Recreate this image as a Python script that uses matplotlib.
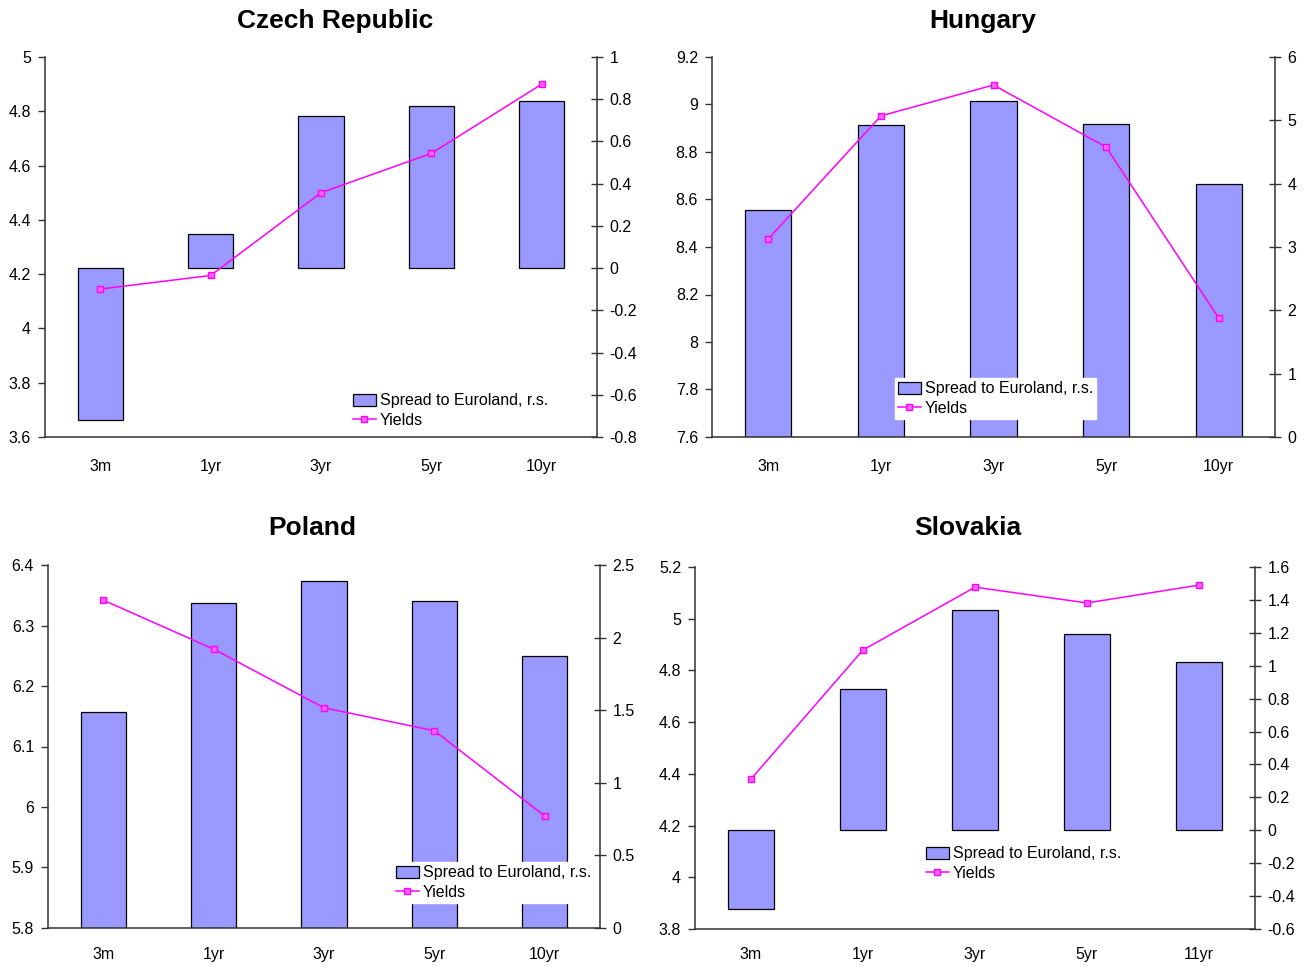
import numpy as np
import matplotlib
matplotlib.use("Agg")
import matplotlib.pyplot as plt
from matplotlib.patches import Patch
from matplotlib.lines import Line2D

plt.rcParams['font.family'] = ['Liberation Sans', 'DejaVu Sans']

# Daten
cats_std = ["3m", "1yr", "3yr", "5yr", "10yr"]
cats_sk = ["3m", "1yr", "3yr", "5yr", "11yr"]

cz_yields = [4.145, 4.195, 4.50, 4.645, 4.90]
cz_spread = [-0.72, 0.16, 0.72, 0.77, 0.79]

hu_yields = [8.434, 8.952, 9.082, 8.821, 8.101]
hu_spread = [3.58, 4.93, 5.31, 4.94, 3.99]

pl_yields = [6.342, 6.261, 6.164, 6.126, 5.985]
pl_spread = [1.49, 2.24, 2.39, 2.25, 1.87]

sk_yields = [4.38, 4.879, 5.122, 5.061, 5.130]
sk_spread = [-0.48, 0.86, 1.34, 1.19, 1.02]

W, H = 1309, 967
fig = plt.figure(figsize=(W / 100, H / 100), dpi=100)

bar_col = "#9999FF"
line_col = "#FF00FF"


def panel(box, title, title_x, title_y, cats, yields, spread,
          lticks, rticks, leg_pos, leg_bg, xpad):
    l, t, r, b = box
    ax = fig.add_axes([l / W, 1 - b / H, (r - l) / W, (b - t) / H])
    ax2 = ax.twinx()
    x = np.arange(len(cats))

    ax2.bar(x, spread, width=0.41, color=bar_col, edgecolor="black", linewidth=0.9)
    ax.plot(x, yields, color=line_col, lw=1.1, marker="s", ms=5,
            mfc="#FF66FF", mec=line_col, mew=1)

    ax.set_zorder(ax2.get_zorder() + 1)
    ax.patch.set_visible(False)

    ax.set_ylim(lticks[0], lticks[-1])
    ax2.set_ylim(rticks[0], rticks[-1])
    ax.set_yticks(lticks)
    ax2.set_yticks(rticks)
    ax.set_yticklabels([f"{v:g}" for v in lticks])
    ax2.set_yticklabels([f"{v:g}" for v in rticks])
    ax.set_xlim(-0.5, len(cats) - 0.5)

    ax.set_xticks(np.arange(-0.5, len(cats)), minor=False)
    ax.set_xticklabels([])
    ax.set_xticks(x, minor=True)
    ax.set_xticklabels(cats, minor=True)
    ax.tick_params(axis="x", which="major", direction="out", length=6, width=1, color="#333333")
    ax.tick_params(axis="x", which="minor", length=0, pad=xpad, labelsize=11.5)
    ax.tick_params(axis="y", direction="out", length=5, width=1, color="#333333",
                   labelsize=11.5, pad=5)
    ax2.tick_params(axis="y", direction="inout", length=8, width=1, color="#333333",
                    labelsize=11.5, pad=5)
    ax2.set_xticks([])

    for a in (ax, ax2):
        a.spines["top"].set_visible(False)
        for s in ("left", "right", "bottom"):
            a.spines[s].set_color("#333333")
            a.spines[s].set_linewidth(1.1)
    ax.spines["right"].set_visible(False)
    ax2.spines["left"].set_visible(False)
    ax2.spines["bottom"].set_visible(False)

    fig.text(title_x / W, 1 - title_y / H, title, ha="center", va="center",
             fontsize=19, fontweight="bold")

    handles = [Patch(facecolor=bar_col, edgecolor="black", linewidth=0.9),
               Line2D([], [], color=line_col, lw=1.1, marker="s", ms=5,
                      mfc="#FF66FF", mec=line_col)]
    lx, ly = leg_pos
    leg = ax.legend(handles, ["Spread to Euroland, r.s.", "Yields"],
                    loc="upper left", bbox_to_anchor=(lx / W, 1 - ly / H),
                    bbox_transform=fig.transFigure, frameon=leg_bg,
                    fontsize=11.5, handlelength=1.4, handleheight=0.8,
                    handletextpad=0.25, labelspacing=0.3, borderpad=0.2,
                    borderaxespad=0)
    if leg_bg:
        leg.get_frame().set_facecolor("white")
        leg.get_frame().set_edgecolor("white")
        leg.get_frame().set_alpha(1)
        leg.get_frame().set_boxstyle("square", pad=0)
    return ax


panel((45, 57, 597, 437), "Czech Republic", 335, 21, cats_std, cz_yields, cz_spread,
      [3.6, 3.8, 4.0, 4.2, 4.4, 4.6, 4.8, 5.0],
      [-0.8, -0.6, -0.4, -0.2, 0, 0.2, 0.4, 0.6, 0.8, 1.0],
      (350, 390), False, 16)

panel((712, 57, 1275, 437), "Hungary", 983, 21, cats_std, hu_yields, hu_spread,
      [7.6, 7.8, 8.0, 8.2, 8.4, 8.6, 8.8, 9.0, 9.2],
      [0, 1, 2, 3, 4, 5, 6],
      (895, 378), True, 16)

panel((48, 565, 600, 928), "Poland", 312, 528, cats_std, pl_yields, pl_spread,
      [5.8, 5.9, 6.0, 6.1, 6.2, 6.3, 6.4],
      [0, 0.5, 1, 1.5, 2, 2.5],
      (393, 862), True, 14)

panel((695, 567, 1255, 929), "Slovakia", 968, 528, cats_sk, sk_yields, sk_spread,
      [3.8, 4.0, 4.2, 4.4, 4.6, 4.8, 5.0, 5.2],
      [-0.6, -0.4, -0.2, 0, 0.2, 0.4, 0.6, 0.8, 1.0, 1.2, 1.4, 1.6],
      (923, 843), False, 13)

fig.savefig("out.png", dpi=100)
